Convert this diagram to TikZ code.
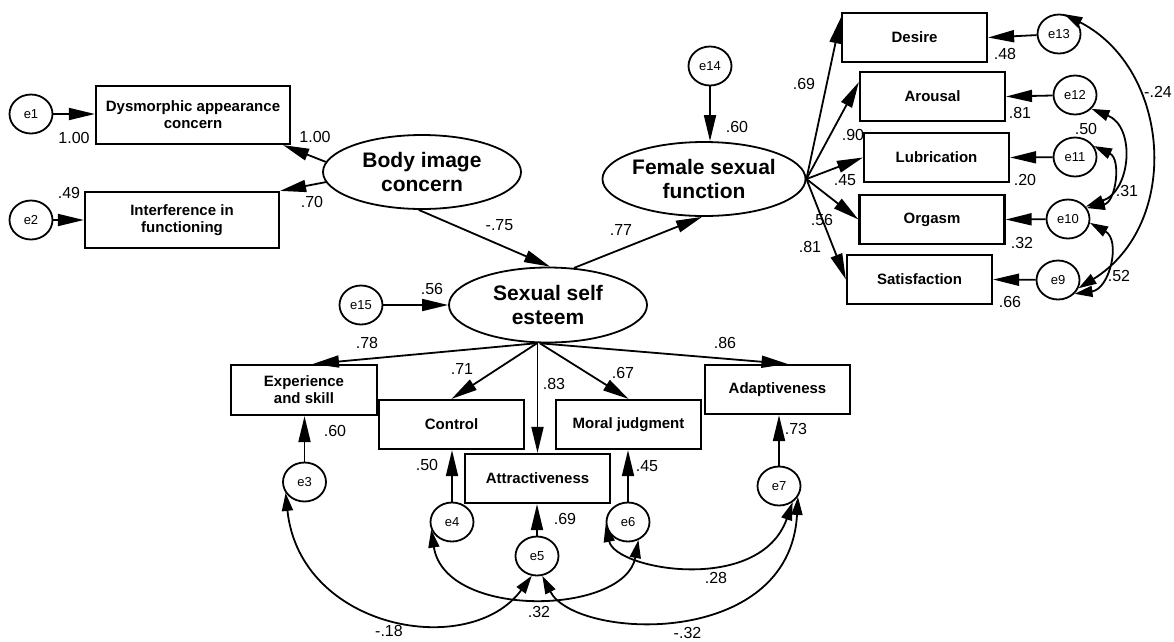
\documentclass[tikz,border=0pt]{standalone}
\usepackage{fontspec}
\setmainfont{Liberation Sans}
\usetikzlibrary{arrows.meta,shapes.geometric,calc}
\begin{document}
\begin{tikzpicture}[x=1pt,y=-1pt,
  box/.style={draw,line width=2.2pt,minimum width=145pt,minimum height=49pt,inner sep=0pt,align=center,font=\fontsize{15}{17}\selectfont\bfseries},
  lat/.style={draw,ellipse,line width=1.8pt,minimum width=198pt,minimum height=74pt,inner sep=0pt,align=center,font=\fontsize{21}{23.5}\selectfont\bfseries},
  err/.style={draw,ellipse,line width=1.8pt,minimum width=43pt,minimum height=39pt,inner sep=0pt,font=\fontsize{13}{15}\selectfont},
  num/.style={inner sep=0pt,font=\fontsize{16}{18}\selectfont},
  arr/.style={line width=1.8pt,-{Triangle[length=26pt,width=12pt]}},
  cov/.style={line width=1.8pt,{Triangle[length=18pt,width=11pt]}-{Triangle[length=18pt,width=11pt]}},
]
\fill[white] (0,0) rectangle (1174,641);
\useasboundingbox (0,0) rectangle (1174,641);

% nodes
\node[err] (e1) at (31,114) {e1};
\node[err] (e2) at (31,220) {e2};
\node[box,minimum width=194pt,minimum height=58pt] (dys) at (193,115) {Dysmorphic appearance\\concern};
\node[box,minimum width=194pt,minimum height=56pt] (inter) at (182,220) {Interference in\\functioning};
\node[lat] (body) at (422,172) {Body image\\concern};
\node[err] (e15) at (361,305) {e15};
\node[lat,minimum height=75pt] (sse) at (548,305) {Sexual self\\esteem};
\node[lat,minimum width=200pt] (fsf) at (704,179) {Female sexual\\function};
\node[err] (e14) at (710,66) {e14};
\node[box] (desire) at (914.5,37.5) {Desire};
\node[box] (arousal) at (932.5,96.5) {Arousal};
\node[box] (lubric) at (936.5,157.5) {Lubrication};
\node[box] (orgasm) at (932,219.5) {Orgasm};
\node[box] (satis) at (919.5,279.5) {Satisfaction};
\node[err] (e13) at (1059,34) {e13};
\node[err] (e12) at (1075,95) {e12};
\node[err] (e11) at (1075,157) {e11};
\node[err] (e10) at (1068,219) {e10};
\node[err] (e9) at (1058,280) {e9};
\node[box,minimum width=146pt,minimum height=50pt] (exper) at (304,390) {Experience\\and skill};
\node[box] (control) at (451.5,424.5) {Control};
\node[box] (attract) at (537.5,478.5) {Attractiveness};
\node[box] (moral) at (628.5,424.5) {Moral judgment};
\node[box] (adapt) at (777.5,389.5) {Adaptiveness};
\node[err] (e3) at (304.5,482) {e3};
\node[err] (e4) at (452,522) {e4};
\node[err] (e5) at (537,556) {e5};
\node[err] (e6) at (628,522) {e6};
\node[err] (e7) at (779,486) {e7};

% regression arrows
\draw[arr] (e1) -- (dys.west |- e1);
\draw[arr] (e2) -- (inter.west |- e2);
\draw[arr] (body.174) -- ([xshift=-8pt]dys.south east);
\draw[arr] (body.186) -- (inter.north east);
\draw[arr] (body.265) -- (sse.87);
\draw[arr] (sse.55) -- (fsf.267);
\draw[arr] (e15) -- (sse.west);
\draw[arr] (e14) -- (e14 |- fsf.north);
\draw[arr] (fsf.east) -- ([yshift=20pt]desire.west);
\draw[arr] (fsf.east) -- ([yshift=14.5pt]arousal.west);
\draw[arr] (fsf.east) -- (lubric.west);
\draw[arr] (fsf.east) -- (orgasm.west);
\draw[arr] (fsf.east) -- (satis.west);
\draw[arr] (e13) -- (desire.east);
\draw[arr] (e12) -- (arousal.east);
\draw[arr] (e11) -- (lubric.east);
\draw[arr] (e10) -- (orgasm.east);
\draw[arr] (e9) -- (satis.east);
\draw[arr] (sse.254) -- ([xshift=9pt]exper.north);
\draw[arr] (sse.254) -- (control.north);
\draw[arr] (attract |- sse.south) -- (attract.north);
\draw[arr] (sse.258) -- (moral.north);
\draw[arr] (sse.258) -- ([xshift=10pt]adapt.north);
\draw[arr] (e3) -- (e3 |- exper.south);
\draw[arr] (e4) -- (e4 |- control.south);
\draw[arr] (e5) -- (e5 |- attract.south);
\draw[arr] (e6) -- (e6 |- moral.south);
\draw[arr] (e7) -- (e7 |- adapt.south);

% covariances
\draw[cov] (e13.75) .. controls (1171,69) and (1182,224) .. (e9.-22);
\draw[cov] (e12.-40) .. controls (1136,127) and (1131,191) .. (e10.35);
\draw[cov] (e11.30) .. controls (1121.5,159) and (1116,202) .. (e10.30);
\draw[cov] (e10.-10) .. controls (1121,240) and (1110,289) .. (e9.-40);
\draw[cov] (e3.210) .. controls (300,630) and (470,660) .. (e5.255);
\draw[cov] (e4.200) .. controls (445,620) and (625,615) .. (e6.-60);
\draw[cov] (e5.285) .. controls (575,640) and (790,650) .. (e7.-30);
\draw[cov] (e6.185) .. controls (615,570) and (760,595) .. (e7.-50);

% labels
\node[num] (n1) at (74,138) {1.00};
\node[num] (n2) at (315,137) {1.00};
\node[num] (n3) at (69,193) {.49};
\node[num] (n4) at (312,202) {.70};
\node[num] (n5) at (499.5,225) {-.75};
\node[num] (n6) at (621,230) {.77};
\node[num] (n7) at (432,289) {.56};
\node[num] (n8) at (737,127) {.60};
\node[num] (n9) at (804,84) {.69};
\node[num] (n10) at (853,135) {.90};
\node[num] (n11) at (845,180) {.45};
\node[num] (n12) at (822,220) {.56};
\node[num] (n13) at (810,247) {.81};
\node[num] (n14) at (1005,54) {.48};
\node[num] (n15) at (1020,113) {.81};
\node[num] (n16) at (1025,180) {.20};
\node[num] (n17) at (1022,243) {.32};
\node[num] (n18) at (1010,302) {.66};
\node[num] (n19) at (1158,92) {-.24};
\node[num] (n20) at (1086,129) {.50};
\node[num] (n21) at (1127,191) {.31};
\node[num] (n22) at (1119,276) {.52};
\node[num] (n23) at (367,343) {.78};
\node[num] (n24) at (462,369) {.71};
\node[num] (n25) at (554,384) {.83};
\node[num] (n26) at (623,373) {.67};
\node[num] (n27) at (725,343) {.86};
\node[num] (n28) at (335,431) {.60};
\node[num] (n29) at (427,465) {.50};
\node[num] (n30) at (565,519) {.69};
\node[num] (n31) at (647,466) {.45};
\node[num] (n32) at (796,429) {.73};
\node[num] (n33) at (389,631) {-.18};
\node[num] (n34) at (539,612) {.32};
\node[num] (n35) at (687.5,633) {-.32};
\node[num] (n36) at (716,578) {.28};
\end{tikzpicture}
\end{document}
